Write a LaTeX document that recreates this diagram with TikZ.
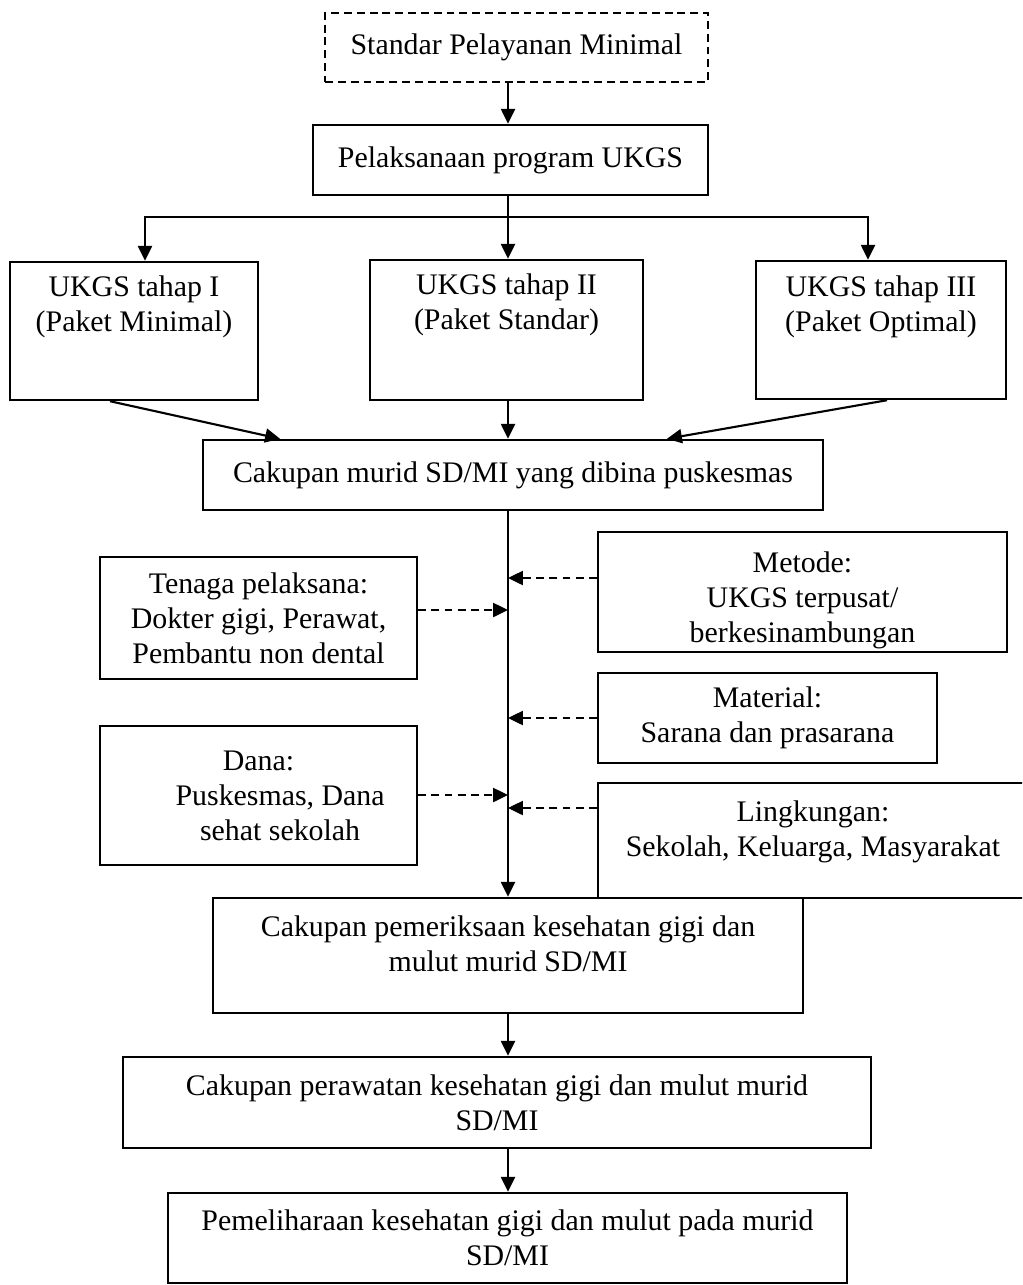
\documentclass[tikz,border=0pt]{standalone}
\usepackage{fontspec}
\setmainfont{Liberation Serif}
\usetikzlibrary{arrows.meta}

\tikzset{
  box/.style={draw, line width=1.4pt, align=center, inner sep=0pt, font=\fontsize{17}{20}\selectfont},
  dbox/.style={box, dash pattern=on 4.5pt off 2.8pt},
  txt/.style={align=center, inner sep=0pt, font=\fontsize{17}{20}\selectfont},
  arr/.style={line width=1.2pt, -{Triangle[length=8.5pt,width=8pt]}},
  darr/.style={arr, dash pattern=on 4.5pt off 3pt},
}

\begin{document}
\begin{tikzpicture}[x=0.02cm, y=-0.02cm]
\useasboundingbox (0,0) rectangle (1022,1285);
\clip (0,0) rectangle (1022,1285);

% top
\node[dbox, minimum width=7.66cm, minimum height=1.38cm] (spm) at (516.5,47.5) {Standar Pelayanan Minimal};
\node[box, minimum width=7.9cm, minimum height=1.4cm] (plk) at (510.5,160) {Pelaksanaan program UKGS};

% tahap UKGS
\node[box, minimum width=4.96cm, minimum height=2.76cm,
  label={[txt,name=t1-t,yshift=0.49cm]center:{UKGS tahap I\\(Paket Minimal)}}] (t1) at (134,331) {};
\node[box, minimum width=5.46cm, minimum height=2.8cm,
  label={[txt,name=t2-t,yshift=0.51cm]center:{UKGS tahap II\\(Paket Standar)}}] (t2) at (506.5,330) {};
\node[box, minimum width=5cm, minimum height=2.76cm,
  label={[txt,name=t3-t,yshift=0.47cm]center:{UKGS tahap III\\(Paket Optimal)}}] (t3) at (881,330) {};

\node[box, minimum width=12.4cm, minimum height=1.4cm] (cak) at (513,475) {Cakupan murid SD/MI yang dibina puskesmas};

% faktor kiri
\node[box, minimum width=6.34cm, minimum height=2.44cm] (tng) at (258.5,618) {Tenaga pelaksana:\\Dokter gigi, Perawat,\\Pembantu non dental};
\node[box, minimum width=6.34cm, minimum height=2.78cm] (dana) at (258.5,795.5) {Dana:\\\hspace*{1.45em}Puskesmas, Dana\\\hspace*{1.45em}sehat sekolah};

% faktor kanan
\node[box, minimum width=8.18cm, minimum height=2.4cm] (met) at (802.5,592) {};
\begin{scope}
  \clip (met.south west) rectangle (met.north east);
  \node[txt] (met-t) at ([yshift=-0.16cm]met.center) {Metode:\\UKGS terpusat/\\berkesinambungan};
\end{scope}
\node[box, minimum width=6.78cm, minimum height=1.8cm] (mat) at (767.5,718) {Material:\\Sarana dan prasarana};
\node[box, minimum width=8.6cm, minimum height=2.3cm,
  label={[txt,name=lng-t,yshift=0.17cm]center:{Lingkungan:\\Sekolah, Keluarga, Masyarakat}}] (lng) at (813,840.5) {};

% hasil
\node[box, minimum width=11.8cm, minimum height=2.3cm,
  label={[txt,name=cpk-t,yshift=0.23cm]center:{Cakupan pemeriksaan kesehatan gigi dan\\mulut murid SD/MI}}] (cpk) at (508,955.5) {};
\node[box, minimum width=14.96cm, minimum height=1.82cm] (cpr) at (497,1102.5) {Cakupan perawatan kesehatan gigi dan mulut murid\\SD/MI};
\node[box, minimum width=13.58cm, minimum height=1.8cm] (pml) at (507.5,1238) {Pemeliharaan kesehatan gigi dan mulut pada murid\\SD/MI};

% alur utama
\coordinate (br) at (508,217);
\draw[arr] (br |- spm.south) -- (br |- plk.north);
\draw[arr] (br |- plk.south) -- (br |- t2.north);
\draw[arr] (br) -| ([xshift=0.22cm]t1.north);
\draw[arr] (br) -| ([xshift=-0.26cm]t3.north);
\draw[arr] ([xshift=-0.48cm]t1.south) -- ([xshift=-4.66cm]cak.north);
\draw[arr] (br |- t2.south) -- (br |- cak.north);
\draw[arr] ([xshift=0.12cm]t3.south) -- ([xshift=3.08cm]cak.north);
\draw[arr] (br |- cak.south) -- (br |- cpk.north);
\draw[arr] (br |- cpk.south) -- (br |- cpr.north);
\draw[arr] (br |- cpr.south) -- (br |- pml.north);

% masukan (garis putus)
\coordinate (jmet) at (508,578);
\coordinate (jtng) at (508,610);
\coordinate (jmat) at (508,718);
\coordinate (jdana) at (508,795);
\coordinate (jlng) at (508,808);
\draw[darr] (tng.east |- jtng) -- (jtng);
\draw[darr] (dana.east |- jdana) -- (jdana);
\draw[darr] (met.west |- jmet) -- (jmet);
\draw[darr] (mat.west |- jmat) -- (jmat);
\draw[darr] (lng.west |- jlng) -- (jlng);
\end{tikzpicture}
\end{document}
